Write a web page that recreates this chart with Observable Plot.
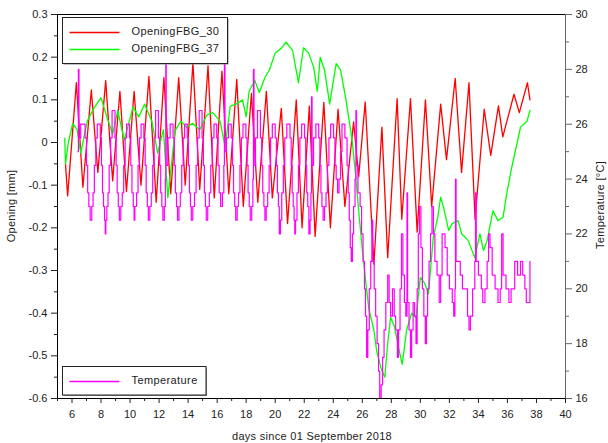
<!DOCTYPE html>
<html><head><meta charset="utf-8">
<script src="https://cdn.jsdelivr.net/npm/d3@7"></script>
<script src="https://cdn.jsdelivr.net/npm/@observablehq/plot@0.6"></script>
<style>body{margin:0;background:#fff}</style>
</head><body><div id="chart"></div>
<script>
// Opening of FBG_30 [mm] : [day, value]
const opening30 = [[5.55,-0.05],[5.7,-0.125],[6.3,0.14],[6.75,-0.105],[7.33,0.123],[7.78,-0.07],[8.32,0.145],[8.8,-0.09],[9.3,0.12],[9.75,-0.115],[10.28,0.12],[10.75,-0.1],[11.3,0.155],[11.8,-0.14],[12.33,0.152],[12.8,-0.12],[13.35,0.152],[13.8,-0.1],[14.33,0.187],[14.8,-0.11],[15.37,0.18],[15.8,-0.13],[16.33,0.167],[16.8,-0.12],[17.35,0.148],[17.8,-0.15],[18.36,0.115],[18.8,-0.14],[19.39,0.12],[19.8,-0.13],[20.42,0.08],[20.85,-0.19],[21.45,0.1],[21.85,-0.2],[22.35,0.085],[22.75,-0.22],[23.35,0.094],[23.8,-0.2],[24.33,0.078],[24.8,-0.15],[25.4,0.048],[25.75,-0.08],[26.2,0.095],[26.8,-0.285],[27.35,0.036],[27.75,-0.27],[28.4,0.103],[28.72,-0.18],[29.32,0.103],[29.78,-0.21],[30.35,0.1],[30.78,-0.15],[31.4,0.09],[31.8,-0.04],[32.4,0.15],[32.84,-0.07],[33.35,0.14],[33.77,-0.18],[34.4,0.078],[34.85,-0.03],[35.38,0.086],[35.68,0.013],[36.45,0.113],[36.82,0.07],[37.38,0.14],[37.55,0.1]];
// Opening of FBG_37 [mm]
const opening37 = [[5.5,0.01],[5.55,-0.05],[5.75,0.0],[6.05,0.045],[6.35,0.03],[6.6,-0.025],[7.05,0.05],[7.5,0.08],[8.0,0.105],[8.4,0.06],[8.8,0.02],[9.15,0.075],[9.6,0.005],[10.2,0.083],[10.6,0.06],[11.0,0.09],[11.5,0.05],[11.9,-0.025],[12.3,0.03],[12.6,-0.13],[13.1,0.028],[13.5,0.05],[13.9,0.035],[14.3,0.045],[14.8,0.03],[15.3,0.065],[15.7,0.07],[16.2,0.05],[16.55,-0.01],[16.9,0.085],[17.3,0.09],[17.75,0.1],[18.0,0.06],[18.2,0.12],[18.6,0.145],[18.9,0.117],[19.3,0.153],[19.6,0.17],[20.0,0.21],[20.4,0.22],[20.75,0.235],[21.2,0.216],[21.6,0.14],[21.95,0.222],[22.3,0.21],[22.65,0.176],[22.9,0.12],[23.1,0.2],[23.4,0.17],[23.75,0.09],[24.2,0.185],[24.5,0.17],[24.85,0.105],[25.1,0.05],[25.3,0.005],[25.55,-0.08],[25.75,-0.16],[26.0,-0.25],[26.25,-0.33],[26.45,-0.39],[26.8,-0.44],[27.0,-0.49],[27.3,-0.53],[27.55,-0.55],[27.75,-0.47],[27.95,-0.41],[28.2,-0.43],[28.5,-0.48],[28.75,-0.52],[29.05,-0.44],[29.4,-0.4],[29.7,-0.41],[30.0,-0.316],[30.3,-0.33],[30.55,-0.355],[30.9,-0.22],[31.2,-0.175],[31.4,-0.128],[31.6,-0.152],[31.95,-0.206],[32.2,-0.19],[32.6,-0.183],[32.85,-0.214],[33.3,-0.23],[33.75,-0.27],[34.1,-0.214],[34.35,-0.253],[34.6,-0.23],[35.0,-0.16],[35.35,-0.183],[35.7,-0.175],[35.95,-0.12],[36.3,-0.058],[36.65,-0.003],[36.9,0.036],[37.15,0.044],[37.35,0.05],[37.55,0.075]];
// Temperature [°C]
const temperature = [[6.40,25.0],[6.44,28.0],[6.48,25.5],[6.60,26.0],[6.90,25.5],
[7.00,24.5],[7.08,23.5],[7.16,23.0],[7.25,22.5],[7.36,23.0],[7.45,23.5],[7.54,24.5],[7.64,25.5],[7.74,26.0],
[7.95,25.5],[8.03,24.5],[8.10,23.5],[8.17,23.0],[8.24,22.5],[8.29,22.0],[8.33,22.5],[8.40,23.0],[8.48,23.5],[8.56,24.5],[8.66,25.5],[8.76,26.5],
[8.96,25.5],[9.04,24.5],[9.11,23.5],[9.19,23.0],[9.26,22.5],[9.36,23.0],[9.46,23.5],[9.56,24.5],[9.66,25.5],[9.76,26.0],
[9.96,25.5],[10.05,24.5],[10.13,23.5],[10.22,23.0],[10.28,22.5],[10.33,23.0],[10.45,23.5],[10.55,24.5],[10.65,25.5],[10.76,26.0],
[10.95,25.5],[11.04,24.5],[11.11,23.5],[11.19,23.0],[11.26,22.5],[11.36,23.0],[11.46,23.5],[11.56,24.5],[11.66,25.5],[11.76,26.5],
[11.95,25.5],[12.04,24.5],[12.11,23.5],[12.19,23.0],[12.26,22.5],[12.36,23.0],[12.43,24.0],[12.46,28.5],[12.49,24.5],[12.60,25.5],[12.76,26.0],
[12.96,25.5],[13.05,24.5],[13.12,23.5],[13.20,23.0],[13.27,22.5],[13.37,23.0],[13.46,23.5],[13.56,24.5],[13.66,25.5],[13.76,26.0],
[13.94,25.5],[14.02,24.5],[14.09,23.5],[14.16,23.0],[14.22,22.5],[14.32,23.0],[14.44,23.5],[14.55,24.5],[14.65,25.5],[14.76,26.5],
[14.96,25.5],[15.05,24.5],[15.12,23.5],[15.19,23.0],[15.25,22.5],[15.35,23.0],[15.46,23.5],[15.56,24.5],[15.66,25.5],[15.78,26.0],
[15.97,25.5],[16.06,24.5],[16.14,23.5],[16.24,23.0],[16.36,23.5],[16.46,24.5],[16.50,28.2],[16.54,25.0],[16.64,25.5],[16.78,26.0],
[16.97,25.5],[17.06,24.5],[17.13,23.5],[17.21,23.0],[17.28,22.5],[17.38,23.0],[17.47,23.5],[17.57,24.5],[17.67,25.5],[17.78,26.0],
[17.98,25.5],[18.06,24.5],[18.13,23.5],[18.21,23.0],[18.28,22.5],[18.38,23.0],[18.46,24.0],[18.50,28.0],[18.54,24.5],[18.64,25.5],[18.78,26.5],
[18.98,25.5],[19.07,24.5],[19.14,23.5],[19.22,23.0],[19.29,22.5],[19.38,23.0],[19.48,23.5],[19.58,24.5],[19.68,25.5],[19.80,26.0],
[20.00,25.5],[20.08,24.5],[20.15,23.5],[20.22,23.0],[20.28,22.0],[20.36,22.5],[20.45,23.5],[20.56,24.5],[20.66,25.5],[20.80,26.0],
[21.02,25.5],[21.10,24.5],[21.17,23.5],[21.24,23.0],[21.30,22.5],[21.35,22.0],[21.40,22.5],[21.50,23.5],[21.60,24.5],[21.70,25.5],[21.82,26.0],
[22.02,25.5],[22.10,24.5],[22.17,23.5],[22.24,23.0],[22.32,22.0],[22.40,22.5],[22.46,23.5],[22.50,27.0],[22.54,24.5],[22.64,25.5],[22.80,26.0],
[23.00,25.5],[23.08,24.5],[23.15,23.5],[23.22,23.0],[23.30,22.5],[23.40,23.0],[23.50,23.5],[23.60,24.5],[23.70,25.5],[23.82,26.0],
[24.02,25.5],[24.12,24.5],[24.20,24.0],[24.30,23.5],[24.40,24.0],[24.50,25.0],[24.60,26.0],[24.80,25.5],
[24.95,24.5],[25.03,23.5],[25.10,22.5],[25.17,21.5],[25.24,21.0],[25.32,22.0],[25.40,23.0],[25.50,24.0],[25.56,26.5],[25.60,24.5],[25.70,23.5],[25.85,23.0],
[25.95,22.0],[26.05,21.0],[26.15,20.0],[26.22,19.0],[26.30,17.5],[26.38,18.5],[26.48,20.0],[26.58,21.0],[26.66,22.5],[26.72,21.0],[26.82,20.0],[26.92,19.0],[27.02,18.0],[27.12,17.0],[27.20,16.0],[27.30,16.5],[27.40,17.5],[27.50,18.5],[27.62,19.5],[27.75,20.5],[27.85,19.5],[27.95,19.0],[28.08,20.0],[28.20,19.0],[28.30,18.5],[28.42,17.5],[28.50,18.5],[28.60,20.0],[28.70,22.0],[28.80,20.5],[28.90,19.5],[29.00,19.0],[29.08,23.5],[29.12,19.5],[29.22,18.5],[29.32,17.5],[29.40,18.5],[29.50,19.5],[29.60,19.0],[29.70,18.0],[29.78,20.0],[29.86,22.0],[29.94,23.0],[30.04,21.5],[30.14,20.0],[30.24,19.0],[30.34,18.0],[30.42,19.0],[30.50,20.0],[30.60,21.0],[30.70,22.0],[30.80,23.0],[30.90,22.0],[31.00,21.0],[31.15,20.5],[31.30,19.5],[31.40,20.5],[31.50,22.0],[31.70,21.5],[31.85,20.5],[32.00,20.0],[32.20,19.5],[32.30,19.0],[32.38,20.0],[32.42,24.0],[32.46,21.0],[32.60,21.0],[32.75,20.5],[32.90,20.0],[33.10,20.0],[33.25,19.0],[33.35,18.5],[33.45,19.0],[33.60,20.0],[33.75,21.0],[33.80,23.5],[33.85,21.0],[34.00,20.5],[34.20,20.0],[34.30,19.5],[34.45,20.0],[34.60,21.0],[34.70,22.0],[34.80,21.5],[34.95,20.5],[35.15,20.0],[35.35,19.5],[35.50,20.0],[35.60,22.0],[35.70,20.5],[35.90,20.0],[36.10,19.5],[36.25,20.0],[36.40,20.0],[36.50,21.0],[36.70,20.5],[36.90,21.0],[37.05,20.5],[37.20,20.0],[37.30,19.5],[37.50,19.5],[37.55,21.0]];

const xMajor = [6,8,10,12,14,16,18,20,22,24,26,28,30,32,34,36,38,40];
const xMinor = [5,7,9,11,13,15,17,19,21,23,25,27,29,31,33,35,37,39];
const yMajor = [-0.6,-0.5,-0.4,-0.3,-0.2,-0.1,0,0.1,0.2,0.3];
const yMinor = [-0.55,-0.45,-0.35,-0.25,-0.15,-0.05,0.05,0.15,0.25];
const tMajor = [16,18,20,22,24,26,28,30];
const tMinor = [17,19,21,23,25,27,29];
const seriesNames = ["OpeningFBG_30","OpeningFBG_37","Temperature"];
const seriesColors = ["#ff0000","#00ff00","#ff00ff"];

// map the right (temperature) axis onto the left scale range
const tDomain = [16,30], yDomain = [-0.6,0.3];
const toY = t => yDomain[0] + (t - tDomain[0]) * (yDomain[1]-yDomain[0]) / (tDomain[1]-tDomain[0]);

const font = "'Liberation Sans', Arial, Helvetica, sans-serif";
const plot = Plot.plot({
  width: 608, height: 443,
  marginLeft: 57, marginRight: 43, marginTop: 14, marginBottom: 45,
  style: {fontFamily: font, fontSize: "11px", color: "#222", background: "#fff", overflow: "visible"},
  x: {domain: [5, 40]},
  y: {domain: yDomain},
  marks: [
    Plot.line(opening30, {x: d => d[0], y: d => d[1], stroke: seriesColors[0], strokeWidth: 1.3}),
    Plot.line(opening37, {x: d => d[0], y: d => d[1], stroke: seriesColors[1], strokeWidth: 1.3}),
    Plot.line(temperature, {x: d => d[0], y: d => toY(d[1]), stroke: seriesColors[2], strokeWidth: 1.2, curve: "step-after"}),
    Plot.frame({stroke: "#000"}),
    Plot.axisX({ticks: xMajor, tickSize: 5, tickPadding: 7, tickFormat: d => String(d), label: null}),
    Plot.axisX({ticks: xMinor, tickSize: 3, tickFormat: () => "", label: null}),
    Plot.axisY({ticks: yMajor, tickSize: 6, tickPadding: 4, tickFormat: d => String(+d.toFixed(1)), label: null}),
    Plot.axisY({ticks: yMinor, tickSize: 3, tickFormat: () => "", label: null}),
    Plot.axisY({anchor: "right", ticks: tMajor.map(toY), tickSize: 6, tickPadding: 4, stroke: "#666",
      tickFormat: d => String(tMajor[d3.minIndex(tMajor, t => Math.abs(toY(t) - d))]), label: null}),
    Plot.axisY({anchor: "right", ticks: tMinor.map(toY), tickSize: 3, stroke: "#666", tickFormat: () => "", label: null}),
    Plot.ruleX([40], {stroke: "#666"})
  ]
});

const svg = d3.select(plot);
const txt = (x, y, s, rot) => {
  const t = svg.append("text").attr("x", 0).attr("y", 0)
    .attr("transform", `translate(${x},${y})` + (rot ? ` rotate(${rot})` : ""))
    .attr("text-anchor", "middle").attr("dominant-baseline", "middle")
    .attr("fill", "#222").attr("font-size", 11).attr("letter-spacing", "0.3px").text(s);
  return t;
};
txt(312, 437, "days since 01 September 2018");
txt(12, 206, "Opening [mm]", -90);
txt(601, 205, "Temperature [°C]", -90);

function legend(x, y, w, h, items) {
  const g = svg.append("g");
  g.append("rect").attr("x", x + 1).attr("y", y + 1).attr("width", w).attr("height", h).attr("fill", "#888");
  g.append("rect").attr("x", x).attr("y", y).attr("width", w).attr("height", h).attr("fill", "#fff").attr("stroke", "#222");
  items.forEach((it, i) => {
    const cy = y + 15 + i * 17;
    g.append("line").attr("x1", x + 7).attr("x2", x + 57).attr("y1", cy).attr("y2", cy).attr("stroke", it.color).attr("stroke-width", 1.3);
    g.append("text").attr("x", x + 69).attr("y", cy).attr("text-anchor", "start").attr("dominant-baseline", "middle").attr("fill", "#222")
      .attr("font-size", 11).attr("letter-spacing", "0.4px").text(it.name);
  });
}
legend(62.5, 17.5, 165, 46, [{name: seriesNames[0], color: seriesColors[0]}, {name: seriesNames[1], color: seriesColors[1]}]);
legend(62.5, 366.5, 143.5, 28.5, [{name: seriesNames[2], color: seriesColors[2]}]);

document.getElementById("chart").append(plot);
</script>
</body></html>
